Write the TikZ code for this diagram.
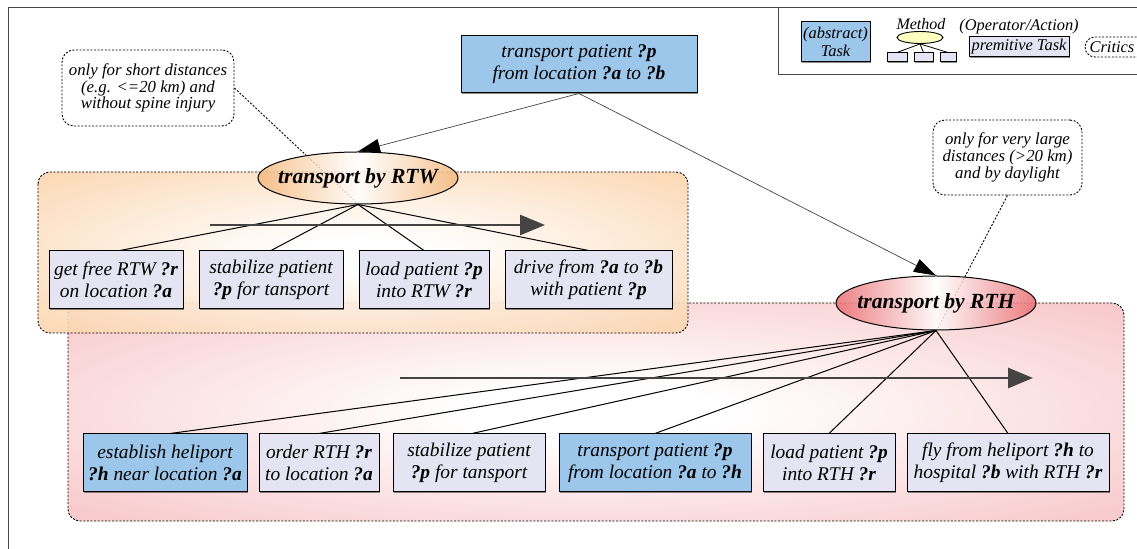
\documentclass[tikz,border=0pt]{standalone}
\usepackage{fontspec}
\setmainfont{Liberation Serif}
\usetikzlibrary{arrows.meta,shapes.geometric,calc,shadows}

\definecolor{taskblue}{RGB}{156,198,234}
\definecolor{primlav}{RGB}{228,228,242}
\definecolor{methyellow}{RGB}{255,255,192}
\definecolor{orangereg}{RGB}{250,190,130}
\definecolor{pinkreg}{RGB}{243,168,172}
\definecolor{orangeell}{RGB}{245,184,124}
\definecolor{redell}{RGB}{234,108,112}
\definecolor{framegray}{RGB}{70,70,70}
\definecolor{flowgray}{RGB}{68,68,68}

% soft radial fills for the two method regions
\pgfdeclareradialshading{rtwfill}{\pgfpoint{0bp}{0bp}}{color(0bp)=(white); color(5bp)=(white); color(50bp)=(orangereg); color(80bp)=(orangereg)}
\pgfdeclareradialshading{rthfill}{\pgfpoint{0bp}{0bp}}{color(0bp)=(white); color(6bp)=(white); color(52bp)=(pinkreg); color(80bp)=(pinkreg)}

\newcommand\pv[1]{\textbf{?#1}}
\newcommand\boxfont{\fontsize{9.7}{11}\selectfont\itshape}
\newcommand\notefont{\fontsize{8.4}{8.4}\selectfont\itshape}
\newcommand\legfont{\fontsize{8.2}{9}\selectfont\itshape}
\newcommand\methfont{\fontsize{10.8}{12}\selectfont\bfseries\itshape}

\begin{document}
\begin{tikzpicture}[x=0.5pt,y=-0.5pt,
  taskbox/.style={draw=black, line width=0.5pt, fill=taskblue, inner sep=0pt, align=center, font=\boxfont,
    drop shadow={shadow xshift=0.6pt, shadow yshift=-0.6pt, opacity=0.45, fill=black}},
  primbox/.style={taskbox, fill=primlav},
  methell/.style={ellipse, draw=black, line width=0.5pt, inner xsep=-8pt, inner ysep=0pt, font=\methfont,
    fill opacity=0.85, text opacity=1},
  region/.style={draw=black, dash pattern=on 1pt off 0.8pt, line width=0.45pt, rounded corners=6pt},
  note/.style={draw=black, dash pattern=on 1pt off 0.8pt, line width=0.45pt, rounded corners=6pt, fill=white,
    inner sep=0pt, align=center, font=\notefont},
  noteline/.style={black, dash pattern=on 1pt off 0.8pt, line width=0.45pt},
  decomp/.style={black, line width=0.5pt},
  choice/.style={draw=flowgray, line width=0.35pt, -{Triangle[length=11pt,width=7pt,color=black]}},
  flow/.style={draw=flowgray, line width=1.4pt, -{Triangle[length=12.5pt,width=10pt]}},
]
\useasboundingbox (0,0) rectangle (1137,549);
\clip (0,0) rectangle (1137,549);

% outer frame and legend frame
\draw[framegray, line width=0.5pt] (8,549) -- (8,8) -- (1137,8);
\draw[framegray, line width=0.5pt] (778,8) -- (778,75) -- (1137,75);

% ---------- legend ----------
\node[taskbox, font=\legfont, minimum width=34.5pt, minimum height=20pt] (lgtask) at (835.5,42) {(abstract)\\Task};
\node[font=\fontsize{8}{8}\selectfont\itshape, inner sep=0pt] (lgmethlabel) at (921,24) {Method};
\node[ellipse, draw=black, line width=0.45pt, fill=methyellow, minimum width=23pt, minimum height=6pt, inner sep=0pt] (lgmeth) at (920,37.5) {};
\node[primbox, minimum width=10pt, minimum height=4.5pt, drop shadow={opacity=0}] (lgs1) at (897,57.5) {};
\node[primbox, minimum width=9.5pt, minimum height=4.5pt, drop shadow={opacity=0}] (lgs2) at (923.5,57.5) {};
\node[primbox, minimum width=8pt, minimum height=4.5pt, drop shadow={opacity=0}] (lgs3) at (948,57.5) {};
\draw[decomp, line width=0.4pt] (lgmeth.south) -- (lgs1.north);
\draw[decomp, line width=0.4pt] (lgmeth.south) -- (lgs2.north);
\draw[decomp, line width=0.4pt] (lgmeth.south) -- (lgs3.north);
\node[font=\fontsize{8.2}{8}\selectfont\itshape, inner sep=0pt] (lgoplabel) at (1019,27) {(Operator/Action)};
\node[primbox, font=\legfont, minimum width=50pt, minimum height=10pt] (lgprim) at (1019,47) {premitive Task};
\draw[region, rounded corners=5pt] (1085,37) rectangle (1160,57);
\node[font=\legfont, inner sep=0pt] (lgcrit) at (1112,47) {Critics};

% ---------- method regions ----------
\shadedraw[region, shading=rthfill] (68,303) rectangle (1124,521);
\shadedraw[region, shading=rtwfill, fill opacity=0.9] (38,172) rectangle (688,333);

% ---------- critics (notes) ----------
\node[note, minimum width=86pt, minimum height=38pt] (lnote) at (148,88)
  {only for short distances\\(e.g. <=20 km) and\\without spine injury};
\node[note, minimum width=74.5pt, minimum height=37.5pt] (rnote) at (1007.5,157.5)
  {only for very large\\distances (>20 km)\\and by daylight};

% ---------- top task ----------
\node[taskbox, minimum width=118pt, minimum height=28.5pt] (top) at (579,64.5)
  {transport patient \pv{p}\\from location \pv{a} to \pv{b}};

% critic annotations run to the method ellipses
\coordinate (rtwc) at (358,204);
\coordinate (rthc) at (937,330);
\draw[noteline] (lnote.east) -- (rtwc);
\draw[noteline] (rnote.south) -- (rthc);

% ---------- method ellipses ----------
\node[methell, minimum width=100pt, minimum height=26pt, left color=orangeell, right color=orangeell, middle color=white]
  (rtw) at (358,178) {transport by RTW};
\node[methell, minimum width=100pt, minimum height=27pt, left color=redell, right color=redell, middle color=white]
  (rth) at (936,303) {transport by RTH};

\draw[choice] (top.south) -- (rtw.north);
\draw[choice] (top.south) -- (rth.north);

% ---------- subtasks of transport by RTW ----------
\node[primbox, minimum width=67pt, minimum height=29pt] (w1) at (116,280) {get free RTW \pv{r}\\on location \pv{a}};
\node[primbox, minimum width=72pt, minimum height=29pt] (w2) at (271,280) {stabilize patient\\\pv{p} for tansport};
\node[primbox, minimum width=65pt, minimum height=29pt] (w3) at (424,280) {load patient \pv{p}\\into RTW \pv{r}};
\node[primbox, minimum width=83.5pt, minimum height=29pt] (w4) at (588.5,280) {drive from \pv{a} to \pv{b}\\with patient \pv{p}};

\draw[decomp] (rtw.south) -- ([xshift=2pt]w1.north);
\draw[decomp] (rtw.south) -- (w2.north);
\draw[decomp] (rtw.south) -- (w3.north);
\draw[decomp] (rtw.south) -- (w4.north);

\coordinate (rtwflow0) at (210,225);
\coordinate (rtwflow1) at (545,225);
\draw[flow] (rtwflow0) -- (rtwflow1);

% ---------- subtasks of transport by RTH ----------
\node[taskbox, minimum width=82pt, minimum height=29pt] (h1) at (165,463) {establish heliport\\\pv{h} near location \pv{a}};
\node[primbox, minimum width=60pt, minimum height=29pt] (h2) at (319,463) {order RTH \pv{r}\\to location \pv{a}};
\node[primbox, minimum width=76pt, minimum height=29pt] (h3) at (469,463) {stabilize patient\\\pv{p} for tansport};
\node[taskbox, minimum width=96pt, minimum height=29pt] (h4) at (655,463) {transport patient \pv{p}\\from location \pv{a} to \pv{h}};
\node[primbox, minimum width=66pt, minimum height=29pt] (h5) at (829,463) {load patient \pv{p}\\into RTH \pv{r}};
\node[primbox, minimum width=101pt, minimum height=29pt] (h6) at (1008,463) {fly from heliport \pv{h} to\\hospital \pv{b} with RTH \pv{r}};

\draw[decomp] (rth.south) -- ([xshift=2.5pt]h1.north);
\draw[decomp] (rth.south) -- (h2.north);
\draw[decomp] (rth.south) -- ([xshift=1.5pt]h3.north);
\draw[decomp] (rth.south) -- (h4.north);
\draw[decomp] (rth.south) -- (h5.north);
\draw[decomp] (rth.south) -- (h6.north);

\coordinate (rthflow0) at (400,378);
\coordinate (rthflow1) at (1033,378);
\draw[flow] (rthflow0) -- (rthflow1);
\end{tikzpicture}
\end{document}
